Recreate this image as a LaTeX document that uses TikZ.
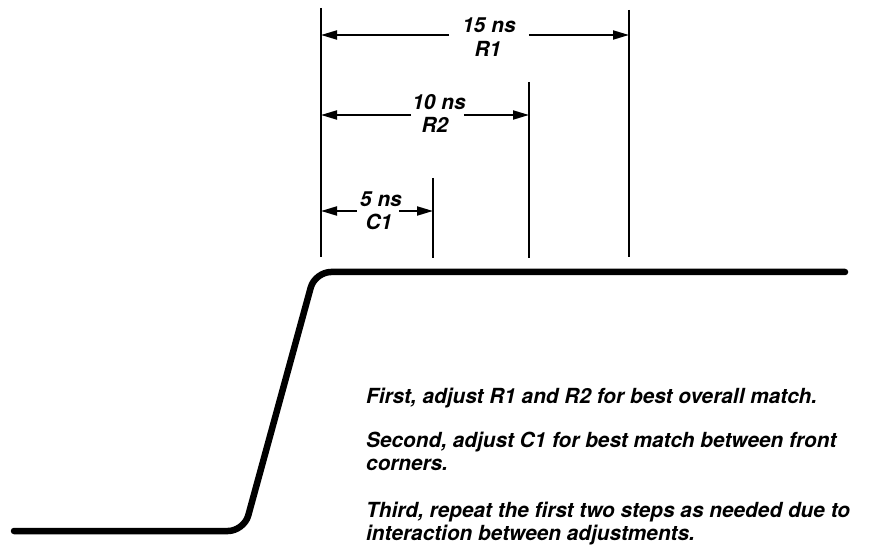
\documentclass[tikz,border=0pt]{standalone}
\usepackage{fontspec}
\setmainfont{TeX Gyre Heros}
\usepackage{tikz}
\usetikzlibrary{arrows.meta,positioning}

\begin{document}
\begin{tikzpicture}[
  x=1pt, y=-1pt,
  wave/.style={line width=6.5pt, line cap=round, rounded corners=16pt},
  mark line/.style={line width=2pt},
  dim/.style={line width=2pt, -{Triangle[length=16pt, width=9pt]}},
  dimlbl/.style={inner xsep=1pt, inner ysep=0pt, anchor=base, font=\fontsize{20.8}{23}\selectfont\bfseries\itshape},
  note/.style={inner sep=0pt, anchor=base west, align=left, font=\fontsize{20.8}{23}\selectfont\bfseries\itshape}
]
\useasboundingbox (0,0) rectangle (871,548);

% waveform
\coordinate (lowstart) at (14,531);
\coordinate (lowcorner) at (244,531);
\coordinate (highcorner) at (315,272);
\coordinate (highend) at (845,272);
\draw[wave] (lowstart) -- (lowcorner) -- (highcorner) -- (highend);

% time marks
\coordinate (t0top) at (321,8);    \coordinate (t0bot) at (321,257);
\coordinate (t5top) at (433,178);  \coordinate (t5bot) at (433,258);
\coordinate (t10top) at (529,82);  \coordinate (t10bot) at (529,258);
\coordinate (t15top) at (629,10);  \coordinate (t15bot) at (629,257);
\draw[mark line] (t0top) -- (t0bot);
\draw[mark line] (t5top) -- (t5bot);
\draw[mark line] (t10top) -- (t10bot);
\draw[mark line] (t15top) -- (t15bot);

% 15 ns / R1
\coordinate (r1left) at (321,35);
\coordinate (r1right) at (629,35);
\node[dimlbl, inner xsep=13pt] (r1time) at (489,33) {15 ns};
\node[dimlbl] (r1name) at (488,57) {R1};
\draw[dim] ([yshift=-2pt]r1time.base west) -- (r1left);
\draw[dim] ([yshift=-2pt]r1time.base east) -- (r1right);

% 10 ns / R2
\coordinate (r2left) at (321,115);
\coordinate (r2right) at (529,115);
\node[dimlbl] (r2time) at (439,110) {10 ns};
\node[dimlbl] (r2name) at (435,133) {R2};
\draw[dim] ([yshift=-5pt]r2time.base west) -- (r2left);
\draw[dim] ([yshift=-5pt,xshift=-3pt]r2time.base east) -- (r2right);

% 5 ns / C1
\coordinate (c1left) at (321,211);
\coordinate (c1right) at (433,211);
\node[dimlbl] (c1time) at (381,207) {5 ns};
\node[dimlbl] (c1name) at (379,230) {C1};
\draw[dim] ([yshift=-4pt,xshift=-2pt]c1time.base west) -- (c1left);
\draw[dim] ([yshift=-4pt,xshift=-4pt]c1time.base east) -- (c1right);

% procedure (base = last line)
\node[note] (first) at (366,403) {First, adjust R1 and R2 for best overall match.};
\node[note] (second) at (366,470) {Second, adjust C1 for best match between front\\corners.};
\node[note] (third) at (366,540) {Third, repeat the first two steps as needed due to\\interaction between adjustments.};
\end{tikzpicture}
\end{document}
